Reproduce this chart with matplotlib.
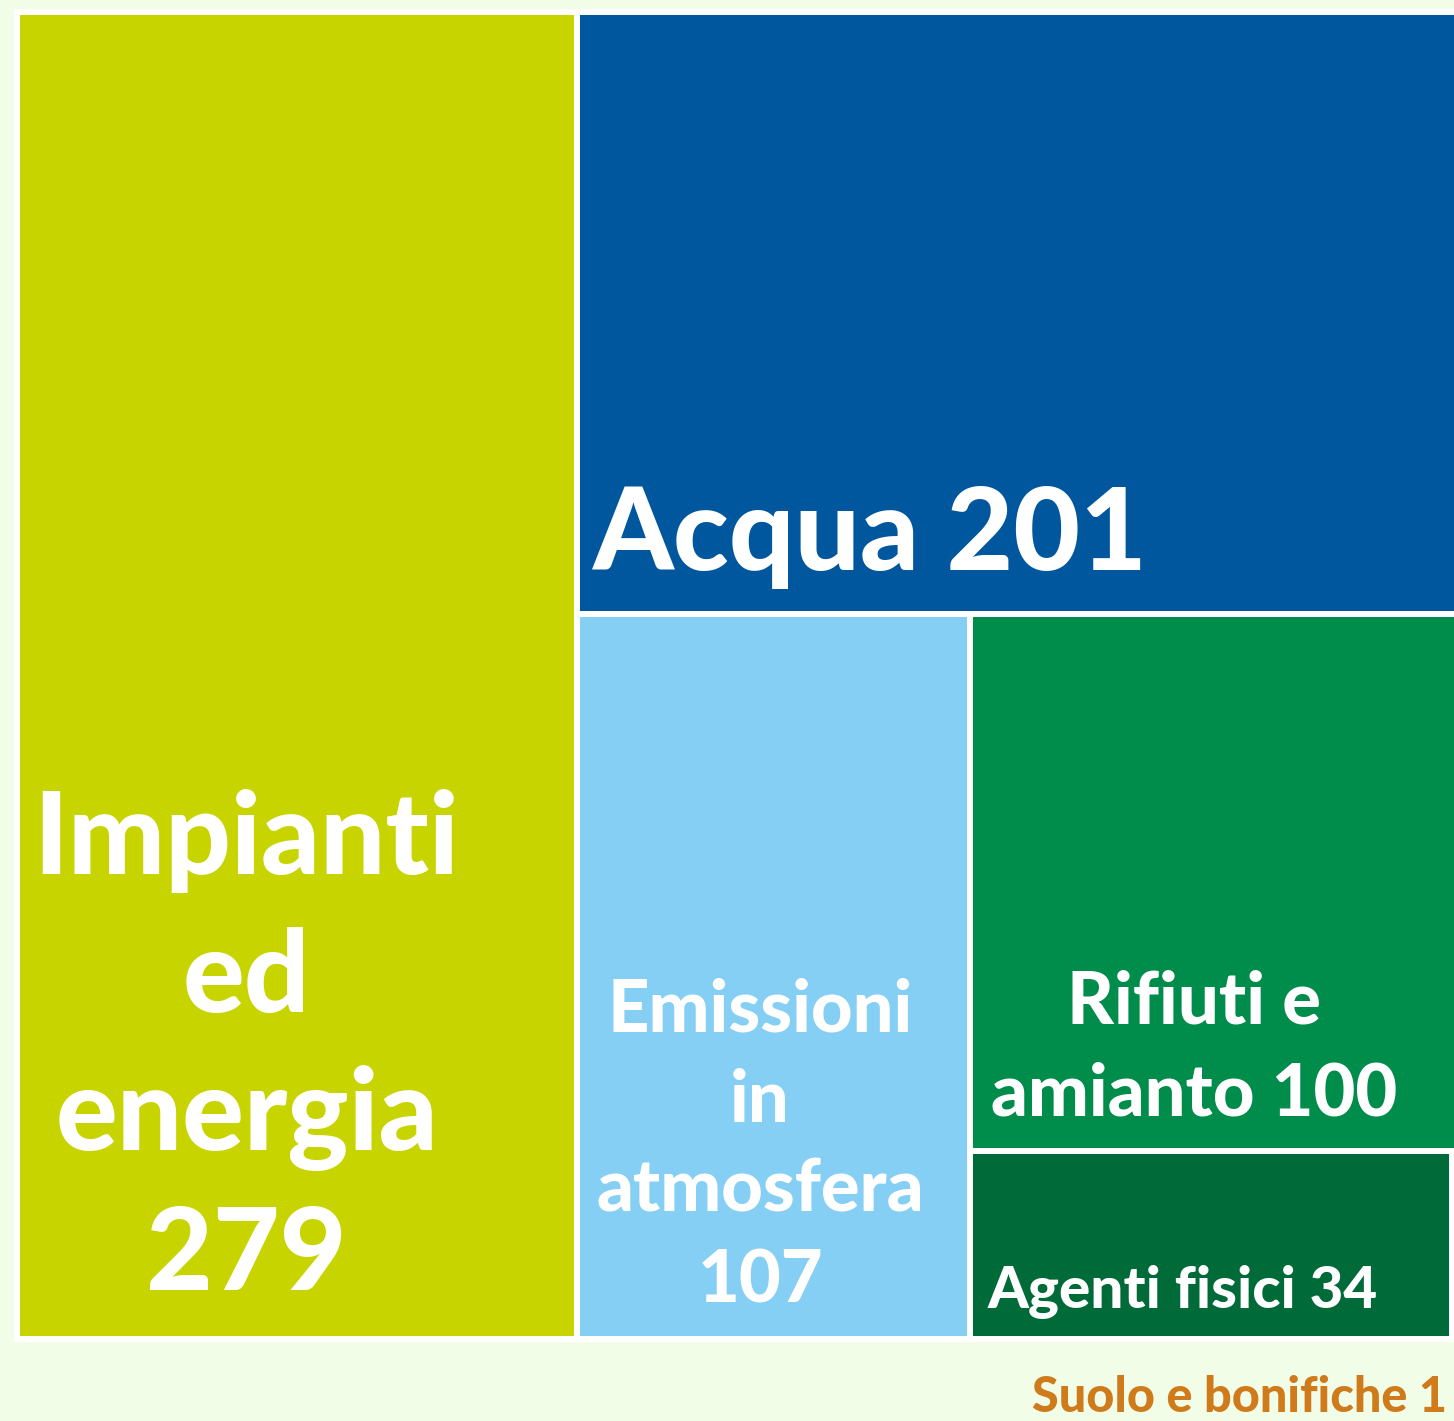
import matplotlib
matplotlib.use("Agg")
import matplotlib.pyplot as plt
from matplotlib.patches import Rectangle

# data
categories = ["Impianti ed energia", "Acqua", "Emissioni in atmosfera",
              "Rifiuti e amianto", "Agenti fisici", "Suolo e bonifiche"]
values = [279, 201, 107, 100, 34, 1]
labels = ["Impianti\ned\nenergia\n279", "Acqua 201", "Emissioni\nin\natmosfera\n107",
          "Rifiuti e\namianto 100", "Agenti fisici 34", "Suolo e bonifiche 1"]
colors = ["#c8d400", "#01579e", "#86cff4", "#008c4a", "#016a39", "#f7f3e4"]

BG = "#f1fde7"
W, H = 1449, 1327


def binary_treemap(vals, x0, y0, x1, y1):
    # same split rule as d3.treemapBinary
    sums = [0]
    for v in vals:
        sums.append(sums[-1] + v)
    rects = [None] * len(vals)

    def part(i, j, value, x0, y0, x1, y1):
        if i >= j - 1:
            rects[i] = (x0, y0, x1, y1)
            return
        offset = sums[i]
        target = value / 2 + offset
        k, hi = i + 1, j - 1
        while k < hi:
            mid = (k + hi) // 2
            if sums[mid] < target:
                k = mid + 1
            else:
                hi = mid
        if (target - sums[k - 1]) < (sums[k] - target) and i + 1 < k:
            k -= 1
        left = sums[k] - offset
        right = value - left
        if (x1 - x0) > (y1 - y0):
            xk = (x0 * right + x1 * left) / value
            part(i, k, left, x0, y0, xk, y1)
            part(k, j, right, xk, y0, x1, y1)
        else:
            yk = (y0 * right + y1 * left) / value
            part(i, k, left, x0, y0, x1, yk)
            part(k, j, right, x0, yk, x1, y1)

    part(0, len(vals), sums[-1], x0, y0, x1, y1)
    return rects


# label placement: fraction inside rect, alignment, size, line spacing
placement = [
    (0.41, 0.963, "center", 83, 1.40),
    (0.017, 0.927, "left", 83, 1.40),
    (0.466, 0.949, "center", 52, 1.43),
    (0.452, 0.934, "center", 52, 1.46),
    (0.037, 0.835, "left", 42, 1.4),
]

fig = plt.figure(figsize=(14.54, 14.21), dpi=100)
fig.patch.set_facecolor(BG)
ax = fig.add_axes([17 / 1454, (1421 - 1339) / 1421, W / 1454, H / 1421])
ax.set_xlim(0, W)
ax.set_ylim(H, 0)
ax.axis("off")

rects = binary_treemap(values, 0, 0, W, H)
for r, c in zip(rects, colors):
    x0, y0, x1, y1 = r
    ax.add_patch(Rectangle((x0, y0), x1 - x0, y1 - y0, facecolor=c,
                           edgecolor="white", linewidth=4.3, clip_on=False))

font = "Lato"
for r, lab, (fx, fy, ha, size, ls) in zip(rects, labels, placement):
    x0, y0, x1, y1 = r
    ax.text(x0 + fx * (x1 - x0), y0 + fy * (y1 - y0), lab, ha=ha, va="baseline",
            multialignment="center", color="white", fontsize=size,
            fontweight="black", family=font, linespacing=ls, clip_on=False)

# smallest category labelled below the chart
ax.text(1015, 1400, labels[5], ha="left", va="baseline", color="#cf7a1b",
        fontsize=35, fontweight="black", family=font, clip_on=False)

fig.savefig("out.png", dpi=100, facecolor=BG)
